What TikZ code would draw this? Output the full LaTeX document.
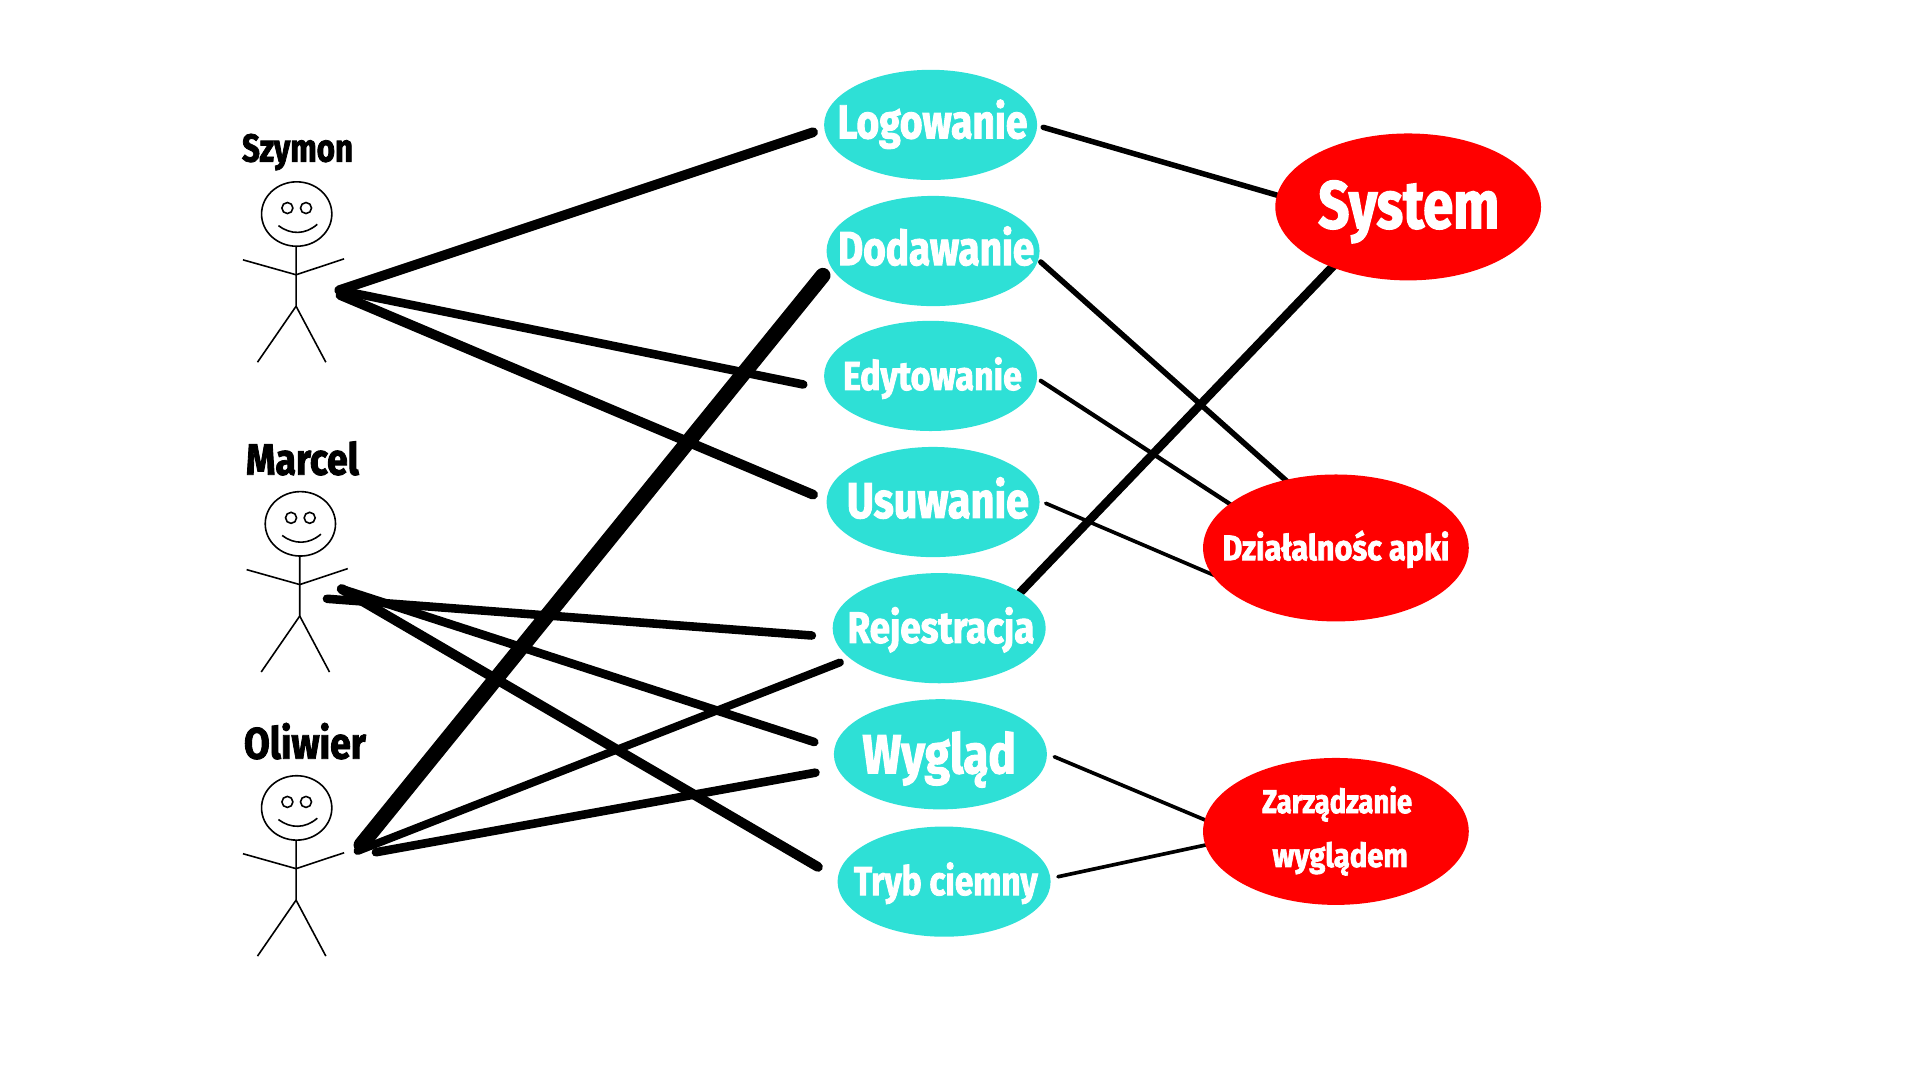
\documentclass[tikz,border=0pt]{standalone}
\usepackage{fontspec}
\usetikzlibrary{shapes.geometric,backgrounds}
\newfontfamily\imp[UprightFont=* Bold,FakeBold=2]{Fira Sans}
% size, stretch, dx, dy (baseline below centre), text
\newcommand{\T}[5]{\makebox[0pt]{\hspace*{#3pt}\hspace*{#3pt}\smash{\raisebox{-#4pt}{\fontsize{#1}{#1}\selectfont\addfontfeature{FakeStretch=#2}#5}}}}
\tikzset{
  x=1pt,y=-1pt,
  uc/.style={ellipse,fill=ucfill,inner sep=0pt,minimum width=174pt,minimum height=90pt,text=white,font=\imp},
  sys/.style={ellipse,fill=red,inner sep=0pt,minimum width=217pt,minimum height=120pt,text=white,font=\imp},
  who/.style={inner sep=0pt,text=black,font=\imp},
  stick/.style={draw=black,line width=1.3pt},
  lnk/.style={draw=black,line cap=round},
}
\definecolor{ucfill}{RGB}{46,224,214}
\newcommand{\actor}[3]{% name, x, y
  \begin{scope}[shift={(#2,#3)},stick]
    \coordinate (#1head) at (0,0);
    \draw (#1head) ellipse [x radius=28.7,y radius=26.3];
    \draw (-7.6,-4.9) circle [radius=4.5];
    \draw (7.6,-4.9) circle [radius=4.5];
    \draw (-14.9,9.5) .. controls (-5,17) and (7,17) .. (16.8,8.4);
    \draw (-.5,26.3) -- (-.5,75.3) -- (-32,121);
    \draw (-.5,75.3) -- (23.8,121);
    \draw (-43.9,37.4) -- (-.5,49.6) -- (38.7,36.6);
  \end{scope}}
\begin{document}
\begin{tikzpicture}
\useasboundingbox (0,0) rectangle (1568,882);
% actors
\actor{sz}{242.3}{174.8}
\actor{ma}{245.3}{427.8}
\actor{ol}{242.3}{659.8}
\node[who] (szn) at (243,121) {\T{32}{.80}{0}{11}{Szymon}};
\node[who] (man) at (247,376) {\T{36}{.85}{0}{11.7}{Marcel}};
\node[who] (oln) at (249,607) {\T{36}{.85}{0}{12.6}{Oliwier}};
% use cases
\node[uc] (log) at (760,102) {\T{39}{.815}{1.5}{11}{Logowanie}};
\node[uc] (dod) at (762,205) {\T{39}{.81}{2.5}{11.5}{Dodawanie}};
\node[uc] (edy) at (760,307) {\T{33}{.84}{1.5}{11.5}{Edytowanie}};
\node[uc] (usu) at (762,410) {\T{41}{.825}{4}{13}{Usuwanie}};
\node[uc] (rej) at (767,513) {\T{36}{.835}{1.5}{12}{Rejestracja}};
\node[uc] (wyg) at (768,616) {\T{45}{.83}{-1}{15.5}{Wygląd}};
\node[uc] (try) at (771,720) {\T{33}{.825}{1.5}{11}{Tryb ciemny}};
% systems
\node[sys] (sys) at (1150,169) {\T{55}{.81}{.5}{17.4}{System}};
\node[sys] (dzi) at (1091,447.5) {\T{29}{.86}{0}{10}{Działalnośc apki}};
\node[sys] (zar) at (1091,679) {\T{27}{.83}{1}{-15}{Zarządzanie}\T{27}{.88}{3.5}{29}{wyglądem}};
% free ends
\foreach \n/\x/\y in {
  a/277/237, b/664/108, c/656/314, d/278/241, e/664/404,
  f/295/690, g/672/225, h/292/695, i/686/541, j/307/696, k/666/631,
  l/267/489, m/663/519, n/279/481, o/665/606, p/668/708,
  q/852/104, r/1045/160, s/850/214, t/1052/394, u/850/311, v/1005/412,
  w/854/411, y/992/470, z/1090/216, aa/833/484, ab/861/618, ac/985/670,
  ad/864/716, ae/985/690}
  {\coordinate (\n) at (\x,\y);}
\begin{scope}[on background layer]
\draw[lnk,line width=8pt] (a) -- (b);
\draw[lnk,line width=7pt] (a) -- (c);
\draw[lnk,line width=8pt] (d) -- (e);
\draw[lnk,line width=12.5pt] (f) -- (g);
\draw[lnk,line width=6.5pt] (h) -- (i);
\draw[lnk,line width=7pt] (j) -- (k);
\draw[lnk,line width=7pt] (l) -- (m);
\draw[lnk,line width=7pt] (n) -- (o);
\draw[lnk,line width=8pt] (n) -- (p);
\draw[lnk,line width=4.5pt] (q) -- (r);
\draw[lnk,line width=4.5pt] (s) -- (t);
\draw[lnk,line width=3.5pt] (u) -- (v);
\draw[lnk,line width=3pt] (w) -- (y);
\draw[lnk,line width=7pt] (z) -- (aa);
\draw[lnk,line width=3pt] (ab) -- (ac);
\draw[lnk,line width=3pt] (ad) -- (ae);
\end{scope}
\end{tikzpicture}
\end{document}
